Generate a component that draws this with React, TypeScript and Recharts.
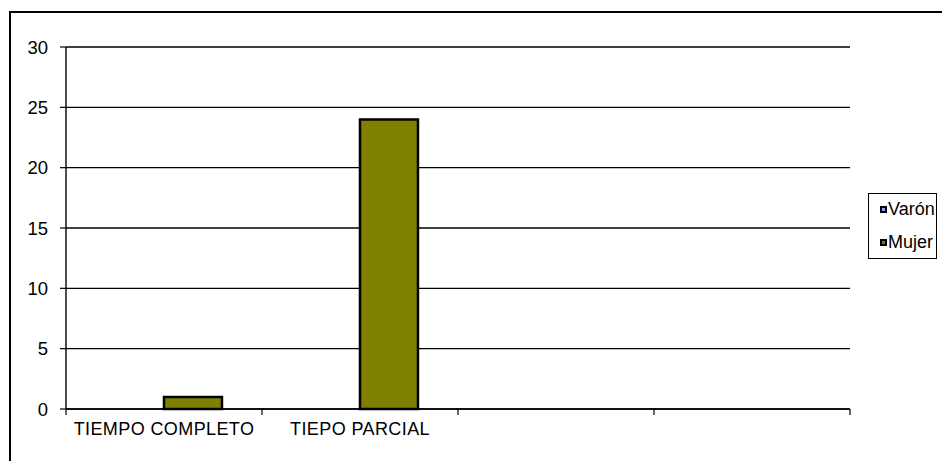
import React from "react";
import { BarChart, Bar, XAxis, YAxis, CartesianGrid } from "recharts";

const categories = ["TIEMPO COMPLETO", "TIEPO PARCIAL", "", " "];
const varonValues = [0, 0, 0, 0];
const mujerValues = [1, 24, 0, 0];
const yTicks = [0, 5, 10, 15, 20, 25, 30];
const seriesNames = ["Varón", "Mujer"];
const seriesColors = ["#9999FF", "#808000"];

const data = categories.map((c, i) => ({
  name: c,
  varon: varonValues[i],
  mujer: mujerValues[i],
}));

const FONT = "'Liberation Sans', Arial, sans-serif";
const PLOT_LEFT = 66;
const PLOT_RIGHT = 850;
const BAND = (PLOT_RIGHT - PLOT_LEFT) / categories.length;

const XTick = (props: any) => {
  const { x, y, payload, index } = props;
  const half = BAND / 2;
  return (
    <g>
      <line x1={x - half} y1={y} x2={x - half} y2={y + 6} stroke="#000" strokeWidth={1.2} />
      {index === categories.length - 1 && (
        <line x1={x + half} y1={y} x2={x + half} y2={y + 6} stroke="#000" strokeWidth={1.2} />
      )}
      <text
        x={x}
        y={y + 20}
        dy="0.355em"
        textAnchor="middle"
        fill="#000"
        fontSize={18}
        letterSpacing={0.4}
        fontFamily={FONT}
      >
        {payload.value}
      </text>
    </g>
  );
};

export default function App() {
  return (
    <div
      style={{
        position: "absolute",
        left: 0,
        top: 0,
        width: 942,
        height: 461,
        overflow: "hidden",
        background: "#fff",
        fontFamily: FONT,
      }}
    >
      <div
        style={{
          position: "absolute",
          left: 9,
          top: 11,
          width: 1000,
          height: 500,
          border: "2px solid #000",
        }}
      />
      <div style={{ position: "absolute", left: 0, top: 0 }}>
        <BarChart
          width={942}
          height={461}
          data={data}
          margin={{ top: 47, right: 942 - PLOT_RIGHT, bottom: 22, left: 0 }}
          barCategoryGap="20.4%"
          barGap={0}
        >
          <CartesianGrid vertical={false} stroke="#000" strokeWidth={1.4} />
          <XAxis
            dataKey="name"
            height={30}
            tickSize={0}
            tickMargin={0}
            tickLine={false}
            axisLine={{ stroke: "#000", strokeWidth: 1.4 }}
            tick={<XTick />}
            interval={0}
          />
          <YAxis
            width={PLOT_LEFT}
            domain={[0, 30]}
            ticks={yTicks}
            interval={0}
            tickSize={6}
            tickMargin={12}
            axisLine={{ stroke: "#000", strokeWidth: 1.4 }}
            tickLine={{ stroke: "#000", strokeWidth: 1.2 }}
            tick={{ fill: "#000", fontSize: 18.5, fontFamily: FONT }}
          />
          <Bar
            dataKey="varon"
            name={seriesNames[0]}
            fill={seriesColors[0]}
            stroke="#000"
            strokeWidth={2.5}
            isAnimationActive={false}
          />
          <Bar
            dataKey="mujer"
            name={seriesNames[1]}
            fill={seriesColors[1]}
            stroke="#000"
            strokeWidth={2.5}
            isAnimationActive={false}
          />
        </BarChart>
      </div>
      <div
        style={{
          position: "absolute",
          left: 868,
          top: 193,
          width: 69,
          height: 66,
          border: "1px solid #000",
          boxSizing: "border-box",
        }}
      >
        {seriesNames.map((n, i) => (
          <div
            key={n}
            style={{
              position: "absolute",
              left: 11,
              top: i === 0 ? 4 : 37,
              height: 22,
              display: "flex",
              alignItems: "center",
              fontSize: 18,
              lineHeight: "22px",
              color: "#000",
              whiteSpace: "nowrap",
            }}
          >
            <span
              style={{
                display: "inline-block",
                width: 3,
                height: 3,
                border: "2px solid #000",
                background: seriesColors[i],
                marginRight: 1,
              }}
            />
            {n}
          </div>
        ))}
      </div>
    </div>
  );
}
